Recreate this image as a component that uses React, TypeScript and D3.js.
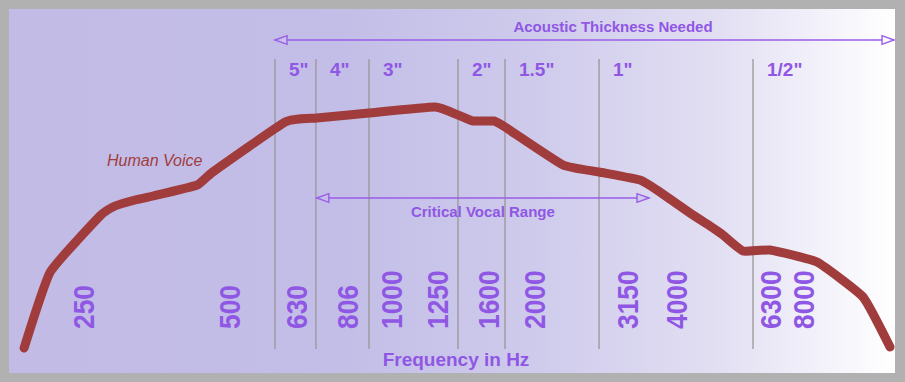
import React from "react";
import * as d3 from "d3";

// ---- data ----
const freqTicks = [250, 500, 630, 806, 1000, 1250, 1600, 2000, 3150, 4000, 6300, 8000];
const boundaryFreqs = [586, 694, 898, 1384, 1739, 2746, 5801];
const thicknessLabels = ['5"', '4"', '3"', '2"', '1.5"', '1"', '1/2"'];
const voiceFreq = [189, 214, 271, 291, 320, 349, 430, 463, 607, 697, 898, 1238, 1384, 1488, 1649, 1739, 2305, 2746, 3350, 3638, 4271, 4776, 5014, 5525, 6300, 8853, 12355, 15020];
const voiceLevel = [0.8, 31.2, 53.6, 57.6, 60, 61.6, 66, 71.2, 91.2, 92.8, 94.8, 97.2, 94, 91.6, 91.6, 89.2, 74, 71.2, 68, 64, 54.8, 48.8, 46, 39.6, 40, 35.2, 21.2, 1.2];
const thicknessSpan = [586, 15460];
const vocalSpan = [697, 3500];

const W = 905;
const H = 382;
const PURPLE = "#9057e4";
const ARROW = "#9a5ce8";
const RED = "#a13c3c";
const FONT = "'Liberation Sans', Arial, Helvetica, sans-serif";

export default function App() {
  const x = d3
    .scaleLog()
    .domain([250, 500, 630, 6300, 8000])
    .range([83, 229, 296, 770, 803]);
  const y = d3.scaleLinear().domain([0, 100]).range([350, 100]);

  const pts: [number, number][] = voiceFreq.map((f, i) => [x(f), y(voiceLevel[i])]);
  const line = d3.line().curve(d3.curveCardinal.tension(0.6))(pts) || "";

  const arrowHead = (tipX: number, yy: number, dir: number) => {
    const len = 12;
    const hw = 4.3;
    return `M${tipX},${yy} L${tipX - dir * len},${yy - hw} L${tipX - dir * len},${yy + hw} Z`;
  };

  const topY = 40;
  const vocalY = 198;

  return (
    <svg
      width={W}
      height={H}
      style={{ position: "absolute", left: 0, top: 0, display: "block" }}
    >
      <defs>
        <linearGradient id="bg" x1="0" y1="0" x2="1" y2="0">
          <stop offset="0" stopColor="#c1bbe6" />
          <stop offset="0.38" stopColor="#c3bee7" />
          <stop offset="0.6" stopColor="#cfcbec" />
          <stop offset="0.8" stopColor="#e2dff3" />
          <stop offset="1" stopColor="#ffffff" />
        </linearGradient>
      </defs>
      <rect x={0} y={0} width={W} height={H} fill="#b1b1b1" />
      <rect x={9} y={9} width={886} height={364} fill="url(#bg)" />

      {/* boundary lines */}
      {boundaryFreqs.map((f, i) => (
        <line
          key={"b" + i}
          x1={x(f)}
          x2={x(f)}
          y1={59}
          y2={349}
          stroke="#9a9595"
          strokeWidth={1.3}
        />
      ))}

      {/* thickness labels */}
      {thicknessLabels.map((t, i) => (
        <text
          key={"t" + i}
          x={x(boundaryFreqs[i]) + 14}
          y={76}
          fill={PURPLE}
          fontFamily={FONT}
          fontWeight="bold"
          fontSize={19}
        >
          {t}
        </text>
      ))}

      {/* acoustic thickness arrow */}
      <line
        x1={x(thicknessSpan[0])}
        x2={x(thicknessSpan[1])}
        y1={topY}
        y2={topY}
        stroke={ARROW}
        strokeWidth={1.5}
      />
      <path d={arrowHead(x(thicknessSpan[0]), topY, -1)} fill="#c6c1e8" stroke={ARROW} strokeWidth={1.4} />
      <path d={arrowHead(x(thicknessSpan[1]), topY, 1)} fill="#fbfbff" stroke={ARROW} strokeWidth={1.4} />
      <text
        x={613}
        y={32}
        textAnchor="middle"
        fill={PURPLE}
        fontFamily={FONT}
        fontWeight="bold"
        fontSize={15}
      >
        Acoustic Thickness Needed
      </text>

      {/* critical vocal range arrow */}
      <line
        x1={x(vocalSpan[0])}
        x2={x(vocalSpan[1])}
        y1={vocalY}
        y2={vocalY}
        stroke={ARROW}
        strokeWidth={1.5}
      />
      <path d={arrowHead(x(vocalSpan[0]), vocalY, -1)} fill="#c2bde7" stroke={ARROW} strokeWidth={1.4} />
      <path d={arrowHead(x(vocalSpan[1]), vocalY, 1)} fill="#cfcbec" stroke={ARROW} strokeWidth={1.4} />
      <text
        x={(x(vocalSpan[0]) + x(vocalSpan[1])) / 2}
        y={217}
        textAnchor="middle"
        fill={PURPLE}
        fontFamily={FONT}
        fontWeight="bold"
        fontSize={15}
      >
        Critical Vocal Range
      </text>

      {/* frequency tick labels */}
      {freqTicks.map((f) => (
        <text
          key={"f" + f}
          transform={`translate(${x(f)},329) rotate(-90) scale(0.88,1)`}
          dy="0.36em"
          fill={PURPLE}
          fontFamily={FONT}
          fontWeight="bold"
          fontSize={30}
        >
          {f}
        </text>
      ))}

      {/* voice curve */}
      <path
        d={line}
        fill="none"
        stroke={RED}
        strokeWidth={9}
        strokeLinecap="round"
        strokeLinejoin="round"
      />
      <text
        x={107}
        y={166}
        fill={RED}
        fontFamily={FONT}
        fontStyle="italic"
        fontSize={16}
      >
        Human Voice
      </text>

      <text
        x={456}
        y={366}
        textAnchor="middle"
        fill={PURPLE}
        fontFamily={FONT}
        fontWeight="bold"
        fontSize={19}
      >
        Frequency in Hz
      </text>
    </svg>
  );
}
